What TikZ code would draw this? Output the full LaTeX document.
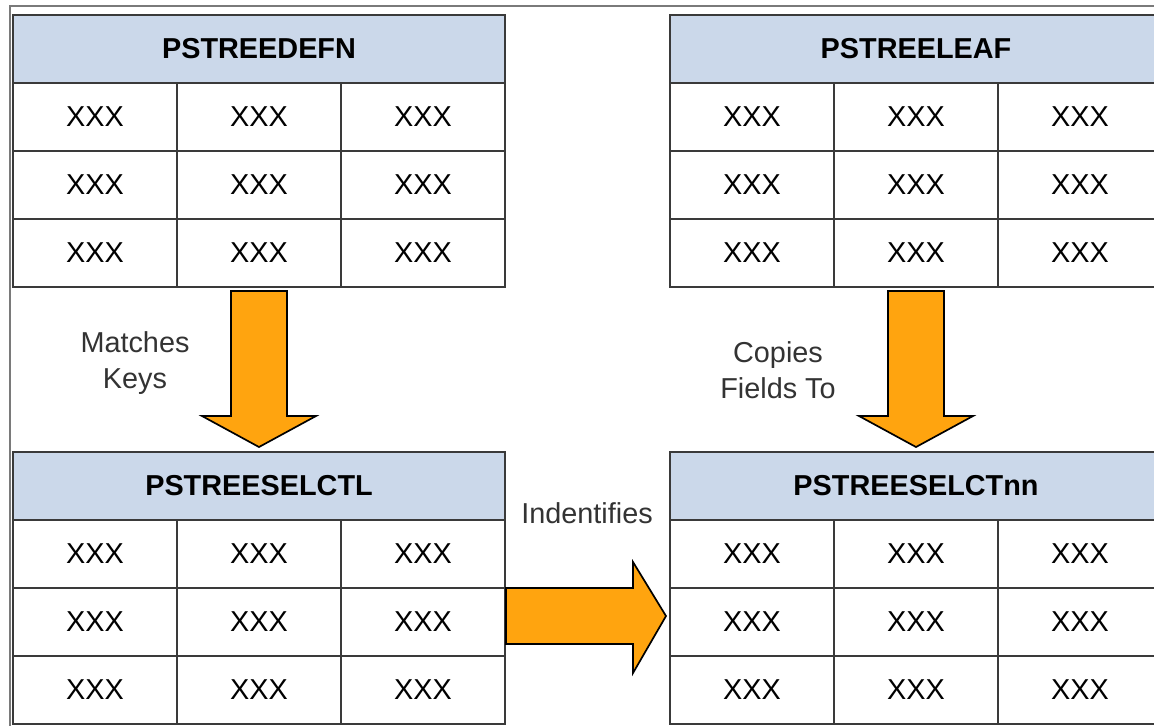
\documentclass[tikz,border=0pt]{standalone}
\usepackage{fontspec}
\setmainfont{Liberation Sans}
\usepackage{xcolor}
\usetikzlibrary{calc}
\definecolor{headblue}{HTML}{CBD8EA}
\definecolor{arroworange}{HTML}{FFA40F}
\definecolor{gridgray}{HTML}{3A3A3A}
\definecolor{framegray}{HTML}{7A7A7A}
\definecolor{labelgray}{HTML}{333333}

\begin{document}
\begin{tikzpicture}[
        x=0.025cm, y=-0.025cm,
        tablehead/.style={rectangle, draw=gridgray, fill=headblue, line width=1.4pt,
                    inner sep=0pt, minimum width=12.3cm, minimum height=1.7cm,
                    font=\bfseries\fontsize{20.5pt}{25pt}\selectfont},
        cell/.style={rectangle, draw=gridgray, fill=white, line width=1.4pt,
                    inner sep=0pt, minimum width=4.1cm, minimum height=1.7cm,
                    font=\fontsize{20.5pt}{25pt}\selectfont},
        blockarrow/.style={draw=black, fill=arroworange, line width=1.2pt, line join=miter},
        label/.style={align=center, text=labelgray, inner sep=0pt,
                    font=\fontsize{20.5pt}{25.5pt}\selectfont}
    ]
    \useasboundingbox (0,0) rectangle (1154,725);
    \clip (0,0) rectangle (1154,725);
    \draw[framegray, line width=0.8pt] (10,760) -- (10,6) -- (1190,6);

    % the four tables
    \foreach \tab/\x/\y/\title in {defn/13/15/PSTREEDEFN, leaf/670/15/PSTREELEAF,
                                   selctl/13/452/PSTREESELCTL, selctn/670/452/PSTREESELCTnn} {
        \node [tablehead] (\tab-head) at (\x+246,\y+34) {\title};
        \foreach \r in {1,2,3}
            \foreach \c in {1,2,3}
                \node [cell] (\tab-\r-\c) at (\x+82+164*\c-164, \y+102+68*\r-68) {XXX};
    }

    % block arrows
    \draw[blockarrow] ($(defn-3-2.south)+(-28,3)$) -- ($(defn-3-2.south)+(28,3)$)
        -- ($(defn-3-2.south |- selctl-head.north)+(28,-35)$)
        -- ($(defn-3-2.south |- selctl-head.north)+(57,-35)$)
        -- ($(defn-3-2.south |- selctl-head.north)+(0,-4)$)
        -- ($(defn-3-2.south |- selctl-head.north)+(-57,-35)$)
        -- ($(defn-3-2.south |- selctl-head.north)+(-28,-35)$) -- cycle;
    \draw[blockarrow] ($(leaf-3-2.south)+(-28,3)$) -- ($(leaf-3-2.south)+(28,3)$)
        -- ($(leaf-3-2.south |- selctn-head.north)+(28,-35)$)
        -- ($(leaf-3-2.south |- selctn-head.north)+(57,-35)$)
        -- ($(leaf-3-2.south |- selctn-head.north)+(0,-4)$)
        -- ($(leaf-3-2.south |- selctn-head.north)+(-57,-35)$)
        -- ($(leaf-3-2.south |- selctn-head.north)+(-28,-35)$) -- cycle;
    \draw[blockarrow] ($(selctl-2-3.east)+(0,-34)$) -- ($(selctn-2-1.west)+(-36,-34)$)
        -- ($(selctn-2-1.west)+(-36,-60)$)
        -- ($(selctn-2-1.west)+(-3,-6)$)
        -- ($(selctn-2-1.west)+(-36,51)$)
        -- ($(selctn-2-1.west)+(-36,22)$)
        -- ($(selctl-2-3.east)+(0,22)$) -- cycle;

    \node [label] (matches) at (135,363) {Matches\\Keys};
    \node [label] (copies) at (778,370) {Copies\\Fields To};
    \node [label] (identifies) at (587,513) {Indentifies};
\end{tikzpicture}
\end{document}
